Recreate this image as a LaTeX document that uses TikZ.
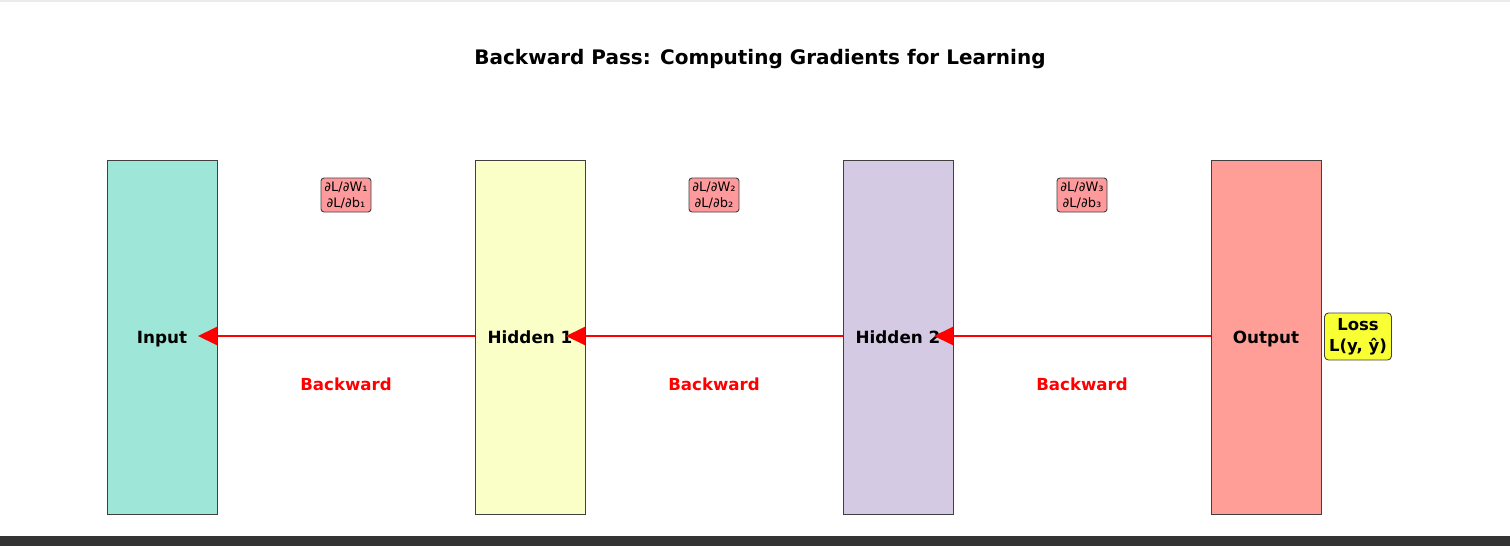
\documentclass[tikz,border=0pt]{standalone}
\usepackage{fontspec}
\setmainfont{DejaVu Sans}
\usetikzlibrary{arrows.meta}
\definecolor{cin}{HTML}{9EE6D8}
\definecolor{chone}{HTML}{FAFFC8}
\definecolor{chtwo}{HTML}{D4CAE4}
\definecolor{cout}{HTML}{FF9E96}
\definecolor{cgrad}{HTML}{FF9A9C}
\definecolor{closs}{HTML}{F8FF33}
\definecolor{edge}{HTML}{404040}
\definecolor{bar}{HTML}{333333}
\tikzset{
  layer/.style={draw=edge, line width=0.9pt, minimum width=110pt, minimum height=354pt, inner sep=0pt},
  lbl/.style={font=\bfseries\fontsize{16.8}{20}\selectfont, text height=12.5pt, text depth=3.5pt, inner sep=0pt, yshift=-1.5pt},
  grad/.style={draw=edge, fill=cgrad, rounded corners=3pt, line width=0.9pt, minimum width=50pt, minimum height=34pt, inner sep=0pt, align=center, font=\fontsize{13}{16}\selectfont},
  bw/.style={text=red, font=\bfseries\fontsize{16.6}{20}\selectfont},
  back/.style={draw=red, line width=2pt, -{Triangle[length=19pt,width=18pt]}, shorten >=-19pt},
  lossbox/.style={draw=edge, fill=closs, rounded corners=4pt, line width=0.9pt, minimum width=67pt, minimum height=47pt, inner sep=0pt, align=center, font=\bfseries\fontsize{16.5}{21}\selectfont}
}
\begin{document}
\begin{tikzpicture}[x=1pt,y=-1pt]
\useasboundingbox (0,0) rectangle (1510,546);
\fill[white] (0,0) rectangle (1510,546);
\fill[black!8] (0,0) rectangle (1510,2);
\fill[bar] (0,536) rectangle (1510,546);
\node[font=\bfseries\fontsize{20}{24}\selectfont] (title) at (760,59) {Backward Pass: Computing Gradients for Learning};
\node[layer, fill=cin] (in) at (162,337) {};
\node[layer, fill=chone] (h1) at (530,337) {};
\node[layer, fill=chtwo] (h2) at (898,337) {};
\node[layer, fill=cout] (out) at (1266,337) {};
\node[lbl] (inl) at (in) {Input};
\node[lbl] (h1l) at (h1) {Hidden 1};
\node[lbl] (h2l) at (h2) {Hidden 2};
\node[lbl] (outl) at (out) {Output};
\coordinate (h1w) at (475,336);
\coordinate (h2w) at (843,336);
\coordinate (outw) at (1211,336);
\coordinate (ine) at (217,336);
\coordinate (h1e) at (585,336);
\coordinate (h2e) at (953,336);
\draw[back] (h1w) -- (ine);
\draw[back] (h2w) -- (h1e);
\draw[back] (outw) -- (h2e);
\node[grad] (g1) at (346,195) {∂L/∂W₁\\∂L/∂b₁};
\node[grad] (g2) at (714,195) {∂L/∂W₂\\∂L/∂b₂};
\node[grad] (g3) at (1082,195) {∂L/∂W₃\\∂L/∂b₃};
\node[bw] (b1) at (346,384.5) {Backward};
\node[bw] (b2) at (714,384.5) {Backward};
\node[bw] (b3) at (1082,384.5) {Backward};
\node[lossbox] (loss) at (1358,336.5) {Loss\\L(y, ŷ)};
\end{tikzpicture}
\end{document}
